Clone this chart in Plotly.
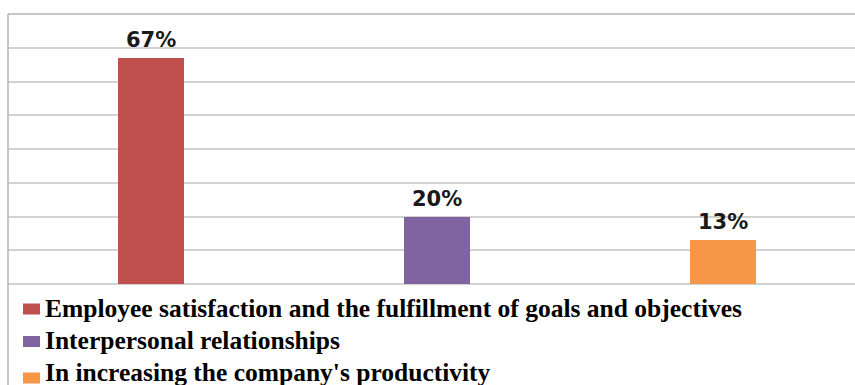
import plotly.graph_objects as go

# Survey results: share of respondents per area of impact
categories = [
    "Employee satisfaction and the fulfillment of goals and objectives",
    "Interpersonal relationships",
    "In increasing the company's productivity",
]
values = [67, 20, 13]
labels = ["67%", "20%", "13%"]
colors = ["#C0504D", "#8064A2", "#F79646"]
positions = [0, 1, 2]

W, H = 855, 385
ML, MT, MB = 8, 14, 101
plot_w = W - ML
plot_h = H - MT - MB

fig = go.Figure()
for i, (name, v, c) in enumerate(zip(categories, values, colors)):
    fig.add_trace(go.Bar(
        x=[positions[i]], y=[v], name=name, width=0.23,
        marker=dict(color=c, line=dict(width=0)),
        hoverinfo="skip", showlegend=False,
    ))

# value labels above each bar
for p, v, t in zip(positions, values, labels):
    fig.add_annotation(
        x=p, y=v, text=t, showarrow=False, yanchor="bottom", yshift=4,
        font=dict(family="DejaVu Sans", size=21, color="#1a1a1a", weight="bold"),
    )

# legend below the plot: colour swatch + label per category
def px_x(px):
    return (px - ML) / plot_w

def px_y(py):
    return (H - MB - py) / plot_h

text_rows = [308, 340, 373]
swatch_rows = [309, 341.5, 378]
for name, c, ty, sy in zip(categories, colors, text_rows, swatch_rows):
    fig.add_shape(type="rect", xref="paper", yref="paper",
                  x0=px_x(23), x1=px_x(40), y0=px_y(sy - 5.5), y1=px_y(sy + 5.5),
                  fillcolor=c, line=dict(width=0))
    fig.add_annotation(
        xref="paper", yref="paper", x=px_x(43), y=px_y(ty),
        xanchor="left", yanchor="middle", showarrow=False, text=name,
        font=dict(family="Liberation Serif", size=25.5, color="black", weight="bold"),
    )

# chart frame: left and top edges
frame = "#b4b4b4"
fig.add_shape(type="line", xref="paper", yref="paper", x0=0, x1=0,
              y0=1, y1=-(MB + 2) / plot_h, line=dict(color=frame, width=1.5))
fig.add_shape(type="line", xref="paper", yref="paper", x0=0, x1=1.02,
              y0=1, y1=1, line=dict(color=frame, width=1.5))

fig.update_layout(
    width=W, height=H,
    margin=dict(l=ML, r=0, t=MT, b=MB, pad=0, autoexpand=False),
    paper_bgcolor="white", plot_bgcolor="white",
    barmode="overlay", bargap=0,
    showlegend=False,
    xaxis=dict(range=[-0.5, 2.46], showticklabels=False, showgrid=False,
               zeroline=False, showline=False, ticks="", fixedrange=True),
    yaxis=dict(range=[0, 80], dtick=10, showticklabels=False, ticks="",
               showgrid=True, gridcolor="#d2d2d2", gridwidth=1.5,
               zeroline=True, zerolinecolor="#d2d2d2", zerolinewidth=1.5,
               showline=False, fixedrange=True),
)

fig.write_html("out.html")
